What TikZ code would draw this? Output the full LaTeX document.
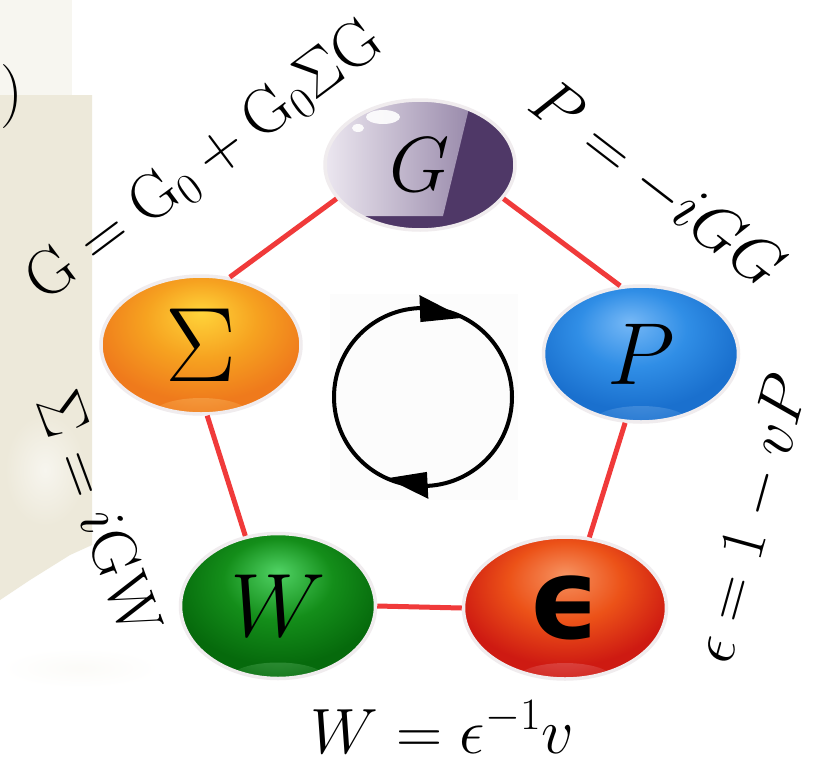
\RequirePackage{fix-cm}
\documentclass[tikz,border=0pt]{standalone}
\usepackage{fontspec}
\newfontfamily\djv{DejaVu Sans}
\usetikzlibrary{shapes.geometric,calc}
\definecolor{redline}{RGB}{240,58,58}
\definecolor{beige}{RGB}{237,233,218}
\definecolor{beigelt}{RGB}{247,246,240}
\definecolor{purpdk}{RGB}{79,56,103}
\definecolor{purplt}{RGB}{236,231,240}
\definecolor{purpmd}{RGB}{128,110,150}
\definecolor{rim}{RGB}{240,236,238}
\definecolor{hiS}{RGB}{255,212,58}
\definecolor{miS}{RGB}{246,162,32}
\definecolor{loS}{RGB}{239,122,28}
\definecolor{glS}{RGB}{250,190,100}
\definecolor{hiP}{RGB}{118,184,246}
\definecolor{miP}{RGB}{48,142,230}
\definecolor{loP}{RGB}{26,112,206}
\definecolor{glP}{RGB}{110,170,232}
\definecolor{hiW}{RGB}{80,210,100}
\definecolor{miW}{RGB}{20,142,26}
\definecolor{loW}{RGB}{6,106,12}
\definecolor{glW}{RGB}{96,184,104}
\definecolor{hiE}{RGB}{246,146,96}
\definecolor{miE}{RGB}{236,82,24}
\definecolor{loE}{RGB}{206,26,18}
\definecolor{glE}{RGB}{232,120,120}
\pgfdeclareradialshading{ballS}{\pgfpoint{0bp}{12bp}}{color(0bp)=(hiS); color(14bp)=(miS); color(27bp)=(loS); color(60bp)=(loS)}
\pgfdeclareradialshading{ballP}{\pgfpoint{-3bp}{12bp}}{color(0bp)=(hiP); color(14bp)=(miP); color(27bp)=(loP); color(60bp)=(loP)}
\pgfdeclareradialshading{ballW}{\pgfpoint{0bp}{12bp}}{color(0bp)=(hiW); color(14bp)=(miW); color(27bp)=(loW); color(60bp)=(loW)}
\pgfdeclareradialshading{ballE}{\pgfpoint{0bp}{12bp}}{color(0bp)=(hiE); color(14bp)=(miE); color(27bp)=(loE); color(60bp)=(loE)}
\begin{document}
\begin{tikzpicture}[x=1pt,y=-1pt,
  ballbase/.style={ellipse, inner sep=0pt, draw=rim, line width=3.5pt},
  ball/.style n args={3}{ballbase, shade, shading=#1,
    path picture={
      \shade[inner color=#2, outer color=#3]
        (path picture bounding box.south) ellipse [x radius=48pt, y radius=16pt];
    }},
  conn/.style={draw=redline, line width=5pt},
  lbl/.style={inner sep=0pt, font=\fontsize{64}{70}\selectfont},
  ]
\useasboundingbox (0,0) rectangle (827,763);
\fill[white] (0,0) rectangle (827,763);
% faded background photo on the left
\fill[beige] (0,95) -- (92,95) -- (92,545) -- (70,555) -- (30,580) -- (0,600) -- cycle;
\fill[beigelt] (0,0) -- (72,0) -- (72,95) -- (0,95) -- cycle;
\shade[inner color=white!55!beige, outer color=beige] (45,470) ellipse [x radius=40pt, y radius=56pt];
\shade[inner color=beige!20!white, outer color=white] (80,668) ellipse [x radius=80pt, y radius=20pt];
\node[lbl] (paren) at (12,97) {)};

% cycle icon
\fill[gray!2] (330,294) rectangle (518,500);
\coordinate (cyc) at (423,397);
\draw[line width=4pt] (cyc) circle [radius=89pt];
\fill ($(cyc)+(-92:75)$) -- ($(cyc)+(-63:89)$) -- ($(cyc)+(-92:102)$) -- cycle;
\fill ($(cyc)+(87:75)$) -- ($(cyc)+(114:89)$) -- ($(cyc)+(87:102)$) -- cycle;

% nodes
\node[ballbase, fill=purpdk, minimum width=190pt, minimum height=130pt,
  path picture={
    \shade[left color=purplt, right color=purpmd]
      (path picture bounding box.north west) -- ++(146,0) -- ++(-28,116) -- ++(-118,0) -- cycle;
    \fill[white, opacity=0.9] ($(path picture bounding box.north west)+(58,17)$) ellipse [x radius=17pt, y radius=7pt];
    \fill[white, opacity=0.9] ($(path picture bounding box.north west)+(33,28)$) ellipse [x radius=6pt, y radius=4pt];
  }] (G) at (420,165) {\fontsize{78}{80}\selectfont$G$};
\node[ball={ballS}{glS}{loS}, minimum width=200pt, minimum height=138pt]
  (S) at (201,345) {\fontsize{106}{110}\selectfont$\Sigma$};
\node[ball={ballP}{glP}{loP}, minimum width=195pt, minimum height=136pt]
  (P) at (641,354) {\fontsize{88}{90}\selectfont$P$};
\node[ball={ballW}{glW}{loW}, minimum width=195pt, minimum height=145pt]
  (W) at (278,606) {\fontsize{90}{92}\selectfont$W$};
\node[ball={ballE}{glE}{loE}, minimum width=203pt, minimum height=142pt]
  (E) at (565,608) {\djv\bfseries\fontsize{112}{114}\selectfont ϵ};

% connectors
\draw[conn] (G.202) -- (S.67);
\draw[conn] (G.338) -- (P.107);
\draw[conn] (S.275) -- (W.115);
\draw[conn] (W.0) -- (E.180);
\draw[conn] (E.71) -- (P.257);

% equations
\node[lbl, rotate=36.8] (eqG) at (205,162) {$\mathrm{G}=\mathrm{G}_0+\mathrm{G}_0\Sigma\mathrm{G}$};
\node[lbl, rotate=-37.6] (eqP) at (656,185) {$P=-iGG$};
\node[lbl, rotate=74.5] (eqE) at (752,519) {$\epsilon=1-vP$};
\node[lbl, rotate=-69.7] (eqS) at (100,513) {$\Sigma=i\mathrm{GW}$};
\node[lbl, anchor=base] (eqW) at (442,753) {$W=\epsilon^{-1}v$};
\end{tikzpicture}
\end{document}
